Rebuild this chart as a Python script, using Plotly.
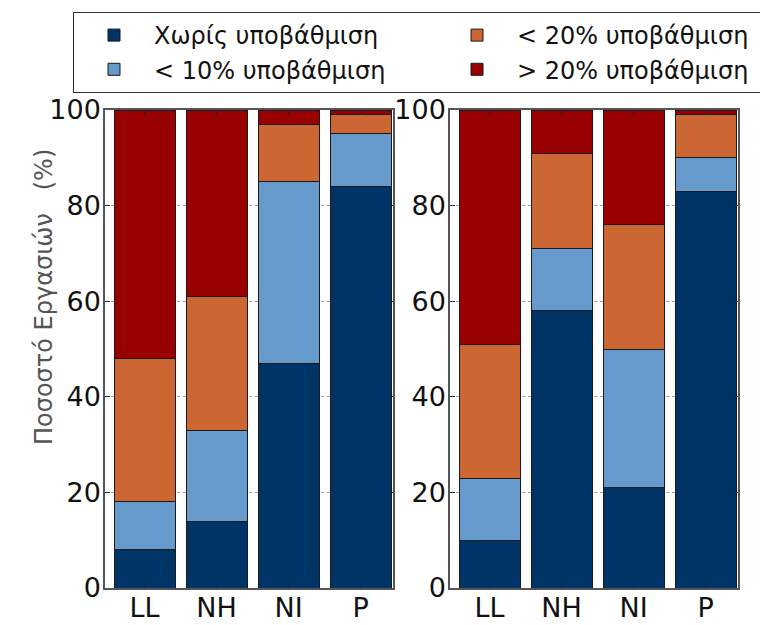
import plotly.graph_objects as go

categories = ["LL", "NH", "NI", "P"]
series_names = ["Χωρίς υποβάθμιση", "< 10% υποβάθμιση", "< 20% υποβάθμιση", "> 20% υποβάθμιση"]

left_none = [8, 14, 47, 84]
left_lt10 = [10, 19, 38, 11]
left_lt20 = [30, 28, 12, 4]
left_gt20 = [52, 39, 3, 1]

right_none = [10, 58, 21, 83]
right_lt10 = [13, 13, 29, 7]
right_lt20 = [28, 20, 26, 9]
right_gt20 = [49, 9, 24, 1]

y_ticks = [0, 20, 40, 60, 80, 100]
y_title = "Ποσοστό Εργασιών\u00a0\u00a0\u00a0(%)"

colors = ["#003366", "#6699CC", "#CC6633", "#990000"]
legend_ranks = [1, 3, 2, 4]

FONT = "DejaVu Sans"

fig = go.Figure()

panels = [
    ("x", "y", [left_none, left_lt10, left_lt20, left_gt20], True),
    ("x2", "y2", [right_none, right_lt10, right_lt20, right_gt20], False),
]

for xa, ya, series, show in panels:
    for name, vals, col, rank in zip(series_names, series, colors, legend_ranks):
        fig.add_trace(go.Bar(
            x=categories, y=vals, name=name, xaxis=xa, yaxis=ya,
            width=0.85, marker=dict(color=col, line=dict(color="#1a1a1a", width=1)),
            showlegend=show, legendrank=rank, legendgroup=name,
        ))

W, H = 760, 625
xdom_left = [105 / W, 393 / W]
xdom_right = [450 / W, 738 / W]
ydom = [(H - 588) / H, (H - 110) / H]

axis_common_x = dict(
    type="category", range=[-0.55, 3.45], showline=True, mirror="ticks",
    linecolor="#555", linewidth=1.5, ticks="inside", ticklen=5, tickcolor="#222",
    tickfont=dict(family=FONT, size=27, color="#111"), showgrid=False, zeroline=False,
    automargin=False, ticklabelstandoff=-5,
)
axis_common_y = dict(
    range=[0, 100], tickvals=y_ticks, showline=True, mirror="ticks",
    linecolor="#555", linewidth=1.5, ticks="inside", ticklen=5, tickcolor="#222",
    tickfont=dict(family=FONT, size=27, color="#111"),
    showgrid=True, gridcolor="#a0a0a0", griddash="dot", gridwidth=1, zeroline=False,
    automargin=False, ticklabelstandoff=-3,
)

fig.update_layout(
    width=W, height=H,
    margin=dict(l=0, r=0, t=0, b=0, autoexpand=False),
    paper_bgcolor="white", plot_bgcolor="white",
    barmode="stack",
    font=dict(family=FONT),
    xaxis=dict(domain=xdom_left, anchor="y", **axis_common_x),
    yaxis=dict(domain=ydom, anchor="x", **axis_common_y),
    xaxis2=dict(domain=xdom_right, anchor="y2", **axis_common_x),
    yaxis2=dict(domain=ydom, anchor="x2", **axis_common_y),
    legend=dict(
        orientation="h", x=73 / W, y=1 - 12 / H, xanchor="left", yanchor="top",
        entrywidth=278, itemwidth=70, font=dict(family=FONT, size=24, color="#111"),
        bordercolor="#333", borderwidth=1, bgcolor="white",
        traceorder="normal",
    ),
    annotations=[dict(
        text=y_title, xref="paper", yref="paper", x=28 / W, y=(H - 297) / H,
        textangle=-90, showarrow=False, font=dict(family=FONT, size=24, color="#555"),
    )],
)

fig.write_html(
    "out.html",
    config={"displayModeBar": False},
    post_script="document.body.style.margin='0';document.body.style.overflow='hidden';",
)
